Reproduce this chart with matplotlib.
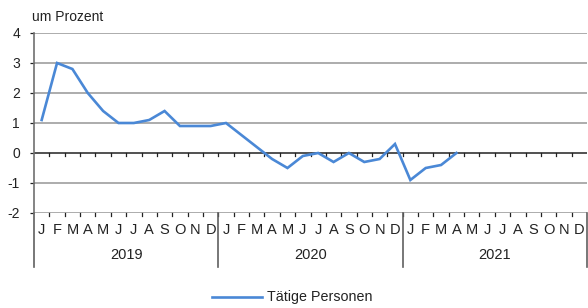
import matplotlib
matplotlib.use("Agg")
import matplotlib.pyplot as plt
from matplotlib.lines import Line2D

plt.rcParams['font.family'] = ['Liberation Sans', 'DejaVu Sans']

months = ["J", "F", "M", "A", "M", "J", "J", "A", "S", "O", "N", "D"]
years = ["2019", "2020", "2021"]
values_2019 = [1.1, 3.0, 2.8, 2.0, 1.4, 1.0, 1.0, 1.1, 1.4, 0.9, 0.9, 0.9]
values_2020 = [1.0, 0.6, 0.2, -0.2, -0.5, -0.1, 0.0, -0.3, 0.0, -0.3, -0.2, 0.3]
values_2021 = [-0.9, -0.5, -0.4, 0.0]
series_name = "Tätige Personen"
yticks = [-2, -1, 0, 1, 2, 3, 4]

values = values_2019 + values_2020 + values_2021
n_months = len(months) * len(years)

W, H = 588, 308
fig = plt.figure(figsize=(W / 100, H / 100), dpi=100)
ax = fig.add_axes([34 / W, (H - 213) / H, 553 / W, 180 / H])

ax.set_xlim(0, n_months)
ax.set_ylim(-2, 4)

blue = '#4a88d6'
grid_c = '#a6a6a6'

# gridlines
for y in yticks:
    if y == 0:
        continue
    ax.axhline(y, color=grid_c, lw=1.3, zorder=1)
ax.axhline(0, color='#222222', lw=1.1, zorder=2)

# ticks at month boundaries on zero line and bottom line
for b in range(1, n_months):
    ax.plot([b, b], [0, -0.1], color='#222222', lw=0.9, zorder=2, clip_on=False)
    ax.plot([b, b], [-2, -2.1], color='#222222', lw=0.9, zorder=2, clip_on=False)

xs = [i + 0.5 for i in range(len(values))]
ax.plot(xs, values, color=blue, lw=1.9, zorder=3, solid_joinstyle='miter', label=series_name)

for s in ['top', 'right', 'bottom']:
    ax.spines[s].set_visible(False)
ax.spines['left'].set_color('#707070')
ax.spines['left'].set_linewidth(1.2)
ax.spines['left'].set_bounds(-2, 4)

ax.set_yticks(yticks)
ax.set_yticklabels([str(v) for v in yticks], fontsize=10, color='#222222')
ax.tick_params(axis='y', length=3, width=0.9, color='#222222', pad=7)
ax.set_xticks([])

xt = ax.get_xaxis_transform()
# year separators
for k in range(len(years) + 1):
    ax.plot([k * 12, k * 12], [0, -0.30], transform=xt, color='#606060',
            lw=1.2, clip_on=False, zorder=2)

for i in range(n_months):
    ax.text(i + 0.5, -0.095, months[i % 12], transform=xt, ha='center', va='center',
            fontsize=10.5, color='#222222')
for k, yr in enumerate(years):
    ax.text(k * 12 + 6, -0.232, yr, transform=xt, ha='center', va='center',
            fontsize=10.5, color='#222222')

fig.text(32 / W, 1 - 17 / H, "um Prozent", ha='left', va='center', fontsize=10, color='#222222')

# legend
fig.add_artist(Line2D([212 / W, 262 / W], [1 - 297 / H, 1 - 297 / H], color=blue, lw=1.9))
fig.text(267 / W, 1 - 297 / H, series_name, ha='left', va='center', fontsize=10.3, color='#222222')

fig.savefig("out.png", dpi=100)
